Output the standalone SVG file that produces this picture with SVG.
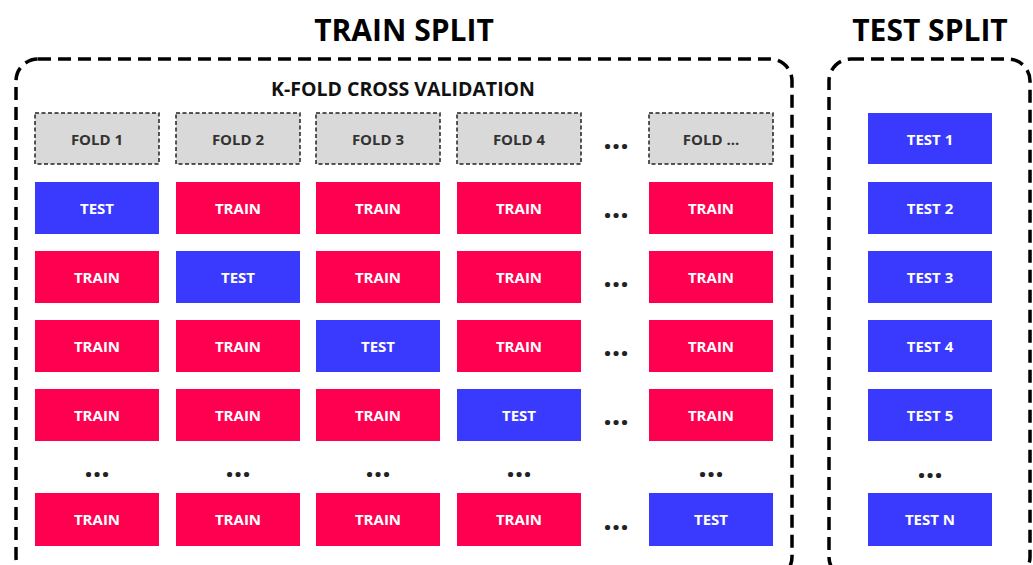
<svg xmlns="http://www.w3.org/2000/svg" width="1033" height="565" viewBox="0 0 1033 565">
<style>
text{font-family:"Open Sans","Liberation Sans",sans-serif;font-weight:700;text-anchor:middle;dominant-baseline:central}
.title{font-size:30px;fill:#000}
.sub{font-size:19.5px;fill:#111}
.cell{font-size:15px;fill:#fff}
.fold rect{fill:#d9d9d9;stroke:#222;stroke-width:1.5;stroke-dasharray:4 2.5}
.fold text{font-size:15px;fill:#333}
.tr{fill:#ff0050}
.te{fill:#3a3aff}
.dots text{font-size:30px;fill:#222;dominant-baseline:alphabetic}
.box{fill:none;stroke:#000;stroke-width:3.5;stroke-dasharray:13 7}
</style>
<rect width="1033" height="565" fill="#fff"/>
<text class="title" x="404" y="29">TRAIN SPLIT</text>
<text class="title" x="930" y="29">TEST SPLIT</text>
<rect class="box" x="16" y="59" width="776" height="520" rx="22"/>
<rect class="box" x="829" y="59" width="201" height="520" rx="22"/>
<text class="sub" x="403" y="88">K-FOLD CROSS VALIDATION</text>
<g id="folds">
<g id="fold1" class="fold"><rect x="35" y="113" width="124" height="51"/><text x="97" y="139">FOLD 1</text></g>
<g id="fold2" class="fold"><rect x="176" y="113" width="124" height="51"/><text x="238" y="139">FOLD 2</text></g>
<g id="fold3" class="fold"><rect x="316" y="113" width="124" height="51"/><text x="378" y="139">FOLD 3</text></g>
<g id="fold4" class="fold"><rect x="457" y="113" width="124" height="51"/><text x="519" y="139">FOLD 4</text></g>
<g id="foldn" class="fold"><rect x="649" y="113" width="124" height="51"/><text x="711" y="139">FOLD ...</text></g>
</g>
<g id="grid">
<g id="r1">
<rect class="te" x="35" y="182" width="124" height="52"/><text class="cell" x="97" y="208">TEST</text>
<rect class="tr" x="176" y="182" width="124" height="52"/><text class="cell" x="238" y="208">TRAIN</text>
<rect class="tr" x="316" y="182" width="124" height="52"/><text class="cell" x="378" y="208">TRAIN</text>
<rect class="tr" x="457" y="182" width="124" height="52"/><text class="cell" x="519" y="208">TRAIN</text>
<rect class="tr" x="649" y="182" width="124" height="52"/><text class="cell" x="711" y="208">TRAIN</text>
</g>
<g id="r2">
<rect class="tr" x="35" y="251" width="124" height="52"/><text class="cell" x="97" y="277">TRAIN</text>
<rect class="te" x="176" y="251" width="124" height="52"/><text class="cell" x="238" y="277">TEST</text>
<rect class="tr" x="316" y="251" width="124" height="52"/><text class="cell" x="378" y="277">TRAIN</text>
<rect class="tr" x="457" y="251" width="124" height="52"/><text class="cell" x="519" y="277">TRAIN</text>
<rect class="tr" x="649" y="251" width="124" height="52"/><text class="cell" x="711" y="277">TRAIN</text>
</g>
<g id="r3">
<rect class="tr" x="35" y="320" width="124" height="52"/><text class="cell" x="97" y="346">TRAIN</text>
<rect class="tr" x="176" y="320" width="124" height="52"/><text class="cell" x="238" y="346">TRAIN</text>
<rect class="te" x="316" y="320" width="124" height="52"/><text class="cell" x="378" y="346">TEST</text>
<rect class="tr" x="457" y="320" width="124" height="52"/><text class="cell" x="519" y="346">TRAIN</text>
<rect class="tr" x="649" y="320" width="124" height="52"/><text class="cell" x="711" y="346">TRAIN</text>
</g>
<g id="r4">
<rect class="tr" x="35" y="389" width="124" height="52"/><text class="cell" x="97" y="415">TRAIN</text>
<rect class="tr" x="176" y="389" width="124" height="52"/><text class="cell" x="238" y="415">TRAIN</text>
<rect class="tr" x="316" y="389" width="124" height="52"/><text class="cell" x="378" y="415">TRAIN</text>
<rect class="te" x="457" y="389" width="124" height="52"/><text class="cell" x="519" y="415">TEST</text>
<rect class="tr" x="649" y="389" width="124" height="52"/><text class="cell" x="711" y="415">TRAIN</text>
</g>
<g id="rn">
<rect class="tr" x="35" y="493" width="124" height="53"/><text class="cell" x="97" y="519">TRAIN</text>
<rect class="tr" x="176" y="493" width="124" height="53"/><text class="cell" x="238" y="519">TRAIN</text>
<rect class="tr" x="316" y="493" width="124" height="53"/><text class="cell" x="378" y="519">TRAIN</text>
<rect class="tr" x="457" y="493" width="124" height="53"/><text class="cell" x="519" y="519">TRAIN</text>
<rect class="te" x="649" y="493" width="124" height="53"/><text class="cell" x="711" y="519">TEST</text>
</g>
</g>
<g id="tests">
<rect class="te" x="868" y="113" width="124" height="51"/><text class="cell" x="930" y="139">TEST 1</text>
<rect class="te" x="868" y="182" width="124" height="52"/><text class="cell" x="930" y="208">TEST 2</text>
<rect class="te" x="868" y="251" width="124" height="52"/><text class="cell" x="930" y="277">TEST 3</text>
<rect class="te" x="868" y="320" width="124" height="52"/><text class="cell" x="930" y="346">TEST 4</text>
<rect class="te" x="868" y="389" width="124" height="52"/><text class="cell" x="930" y="415">TEST 5</text>
<rect class="te" x="868" y="493" width="124" height="53"/><text class="cell" x="930" y="519">TEST N</text>
</g>
<g id="dots" class="dots">
<text x="616" y="149">...</text>
<text x="616" y="218">...</text>
<text x="616" y="287">...</text>
<text x="616" y="356">...</text>
<text x="616" y="425">...</text>
<text x="616" y="530">...</text>
<text x="97" y="477">...</text>
<text x="238" y="477">...</text>
<text x="378" y="477">...</text>
<text x="519" y="477">...</text>
<text x="711" y="477">...</text>
<text x="930" y="478">...</text>
</g>
</svg>
